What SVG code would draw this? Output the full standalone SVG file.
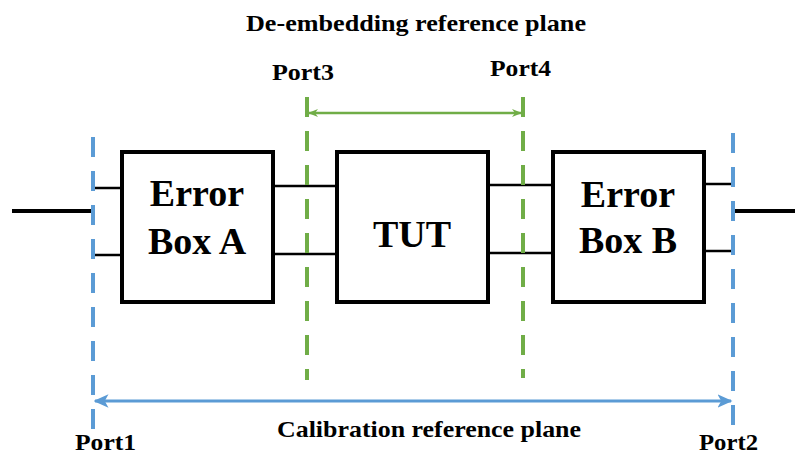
<svg xmlns="http://www.w3.org/2000/svg" width="795" height="455" viewBox="0 0 795 455">
<style>
.box{fill:#fff;stroke:#000;stroke-width:4}
.wire{stroke:#000;stroke-width:2.5;fill:none}
.lead{stroke:#000;stroke-width:4;fill:none}
.blue{stroke:#5B9BD5;stroke-width:4;stroke-dasharray:20 14;fill:none}
.green{stroke:#70AD47;stroke-width:4;stroke-dasharray:20 14;fill:none}
.barb{stroke:#5B9BD5;stroke-width:3;fill:none}
.garb{stroke:#70AD47;stroke-width:2.5;fill:none}
</style>
<defs>
<marker id="ab" viewBox="0 0 10 10" refX="9" refY="5" markerWidth="5" markerHeight="5" orient="auto-start-reverse" markerUnits="strokeWidth"><path d="M0,0.5 L10,5 L0,9.5 L2.5,5 z" fill="#5B9BD5"/></marker>
<marker id="ag" viewBox="0 0 10 10" refX="9" refY="5" markerWidth="4" markerHeight="4" orient="auto-start-reverse" markerUnits="strokeWidth"><path d="M0,1 L10,5 L0,9 L3,5 z" fill="#70AD47"/></marker>
</defs>
<g id="connectors">
<line class="lead" x1="12" y1="211" x2="91" y2="211"/>
<line class="lead" x1="735" y1="211" x2="795" y2="211"/>
<line class="wire" x1="94" y1="188" x2="122" y2="188"/>
<line class="wire" x1="94" y1="255" x2="122" y2="255"/>
<line class="wire" x1="273" y1="186" x2="337" y2="186"/>
<line class="wire" x1="273" y1="254" x2="337" y2="254"/>
<line class="wire" x1="488" y1="185" x2="553" y2="185"/>
<line class="wire" x1="488" y1="253" x2="553" y2="253"/>
<line class="wire" x1="704" y1="184" x2="732" y2="184"/>
<line class="wire" x1="704" y1="251" x2="732" y2="251"/>
<line class="blue" x1="93" y1="137" x2="93" y2="432"/>
<line class="blue" x1="733" y1="133" x2="733" y2="432"/>
<line class="green" x1="307" y1="97" x2="307" y2="380"/>
<line class="green" x1="523" y1="97" x2="523" y2="378"/>
<line class="garb" x1="309" y1="113" x2="521" y2="113" marker-start="url(#ag)" marker-end="url(#ag)"/>
<line class="barb" x1="95" y1="401" x2="731" y2="401" marker-start="url(#ab)" marker-end="url(#ab)"/>
</g>
<g font-family="'Liberation Serif', serif" font-weight="bold" fill="#000">
<g id="errorBoxA">
<rect class="box" x="122" y="152" width="151" height="150"/>
<text x="197" y="206" font-size="38" text-anchor="middle">Error</text>
<text x="197" y="254" font-size="38" text-anchor="middle">Box A</text>
</g>
<g id="tut">
<rect class="box" x="337" y="152" width="151" height="150"/>
<text x="412" y="247" font-size="38" text-anchor="middle">TUT</text>
</g>
<g id="errorBoxB">
<rect class="box" x="553" y="152" width="151" height="150"/>
<text x="628" y="207" font-size="38" text-anchor="middle">Error</text>
<text x="628" y="253" font-size="38" text-anchor="middle">Box B</text>
</g>
<g id="labels" font-size="24">
<text x="246" y="31" textLength="340" lengthAdjust="spacingAndGlyphs">De-embedding reference plane</text>
<text x="272" y="80" textLength="62" lengthAdjust="spacingAndGlyphs">Port3</text>
<text x="490" y="76" textLength="61" lengthAdjust="spacingAndGlyphs">Port4</text>
<text x="277" y="437" textLength="304" lengthAdjust="spacingAndGlyphs">Calibration reference plane</text>
<text x="75" y="450" textLength="61" lengthAdjust="spacingAndGlyphs">Port1</text>
<text x="699" y="450" textLength="59" lengthAdjust="spacingAndGlyphs">Port2</text>
</g>
</g>
</svg>
